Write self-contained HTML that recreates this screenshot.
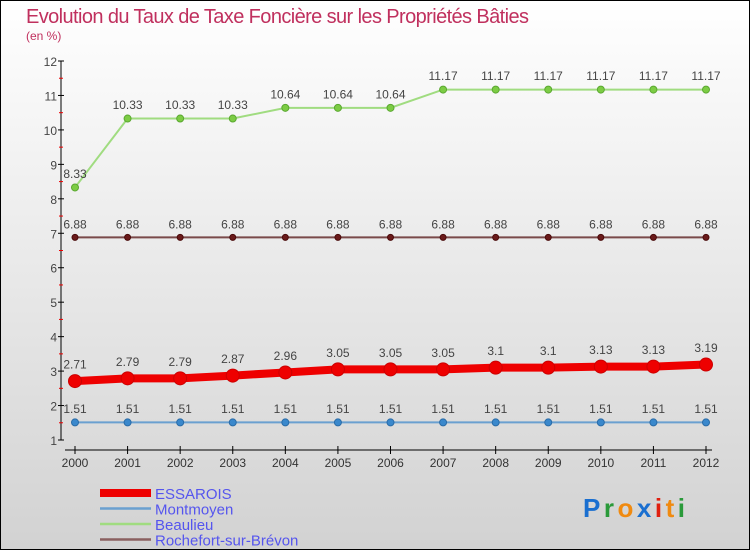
<!DOCTYPE html>
<html><head><meta charset="utf-8"><style>
html,body{margin:0;padding:0}
body{width:750px;height:550px;overflow:hidden;font-family:"Liberation Sans",sans-serif}
svg text{font-family:"Liberation Sans",sans-serif}
</style></head><body>
<svg id="chart" width="750" height="550" xmlns="http://www.w3.org/2000/svg">
<defs><linearGradient id="bg" x1="0" y1="0" x2="0" y2="1"><stop offset="0" stop-color="#ffffff"/><stop offset="1" stop-color="#d2d2d2"/></linearGradient></defs>
<rect x="0.5" y="0.5" width="749" height="549" fill="url(#bg)" stroke="#000"/>
<text x="26" y="23" font-size="20" fill="#c0305e" textLength="503">Evolution du Taux de Taxe Foncière sur les Propriétés Bâties</text>
<text x="26" y="40" font-size="12" fill="#c0305e">(en %)</text>
<g id="axes"></g><g id="series"></g><g id="legend"></g>
<text x="583" y="517" font-size="26" font-weight="bold" textLength="102"><tspan fill="#1a6fd0">P</tspan><tspan fill="#2a9a3a">r</tspan><tspan fill="#f08a10">o</tspan><tspan fill="#1a6fd0">x</tspan><tspan fill="#e02010">i</tspan><tspan fill="#f08a10">t</tspan><tspan fill="#2a9a3a">i</tspan></text>
</svg>
<script>
const years=[2000,2001,2002,2003,2004,2005,2006,2007,2008,2009,2010,2011,2012];
const essarois=[2.71,2.79,2.79,2.87,2.96,3.05,3.05,3.05,3.1,3.1,3.13,3.13,3.19];
const montmoyen=[1.51,1.51,1.51,1.51,1.51,1.51,1.51,1.51,1.51,1.51,1.51,1.51,1.51];
const beaulieu=[8.33,10.33,10.33,10.33,10.64,10.64,10.64,11.17,11.17,11.17,11.17,11.17,11.17];
const rochefort=[6.88,6.88,6.88,6.88,6.88,6.88,6.88,6.88,6.88,6.88,6.88,6.88,6.88];
const yTicks=[1,2,3,4,5,6,7,8,9,10,11,12];
const NS="http://www.w3.org/2000/svg";
const xs=i=>75+i*(706-75)/(years.length-1);
const ys=v=>440-(v-1)*(440-61)/11;
function mk(tag,attrs,parent,txt){const e=document.createElementNS(NS,tag);for(const k in attrs)e.setAttribute(k,attrs[k]);if(txt!==undefined)e.textContent=txt;parent.appendChild(e);return e;}
const ax=document.getElementById('axes');
let e=mk('line',{x1:61,y1:ys(12),x2:61,y2:ys(1),stroke:'#000'},ax);

e=mk('line',{x1:65,y1:450,x2:712,y2:450,stroke:'#000'},ax);

yTicks.forEach(t=>{
 mk('line',{x1:58,y1:ys(t),x2:64,y2:ys(t),stroke:'#000'},ax);
 if(t<12) mk('line',{x1:59,y1:ys(t+0.5),x2:63,y2:ys(t+0.5),stroke:'#e00'},ax);
 e=mk('text',{x:57,y:ys(t)+5,'font-size':12,fill:'#444','text-anchor':'end'},ax,t);
 
});
years.forEach((y,i)=>{
 mk('line',{x1:xs(i),y1:446,x2:xs(i),y2:454,stroke:'#000'},ax);
 e=mk('text',{x:xs(i),y:467,'font-size':12,fill:'#333','text-anchor':'middle'},ax,y);
 
});
const sg=document.getElementById('series');
function series(name,data,color,width,r,dot,dotStroke){
 const g=mk('g',{},sg);
 
 const l=mk('polyline',{points:data.map((v,i)=>xs(i)+','+ys(v)).join(' '),fill:'none',stroke:color,'stroke-width':width},g);
 
 data.forEach((v,i)=>{
  const c=mk('circle',{cx:xs(i),cy:ys(v),r:r,fill:dot,stroke:dotStroke,'stroke-width':1},g);
  
  const t=mk('text',{x:xs(i),y:ys(v)-r-6,'font-size':12,fill:'#444','text-anchor':'middle'},g,String(v));
  
 });
}
series('montmoyen',montmoyen,'#6aa0d0',2,3.5,'#3a88cc','#2a6ca8');
series('beaulieu',beaulieu,'#a0dc80',2,3.5,'#7ccc44','#5aa830');
series('rochefort',rochefort,'#7a4a4a',2,3,'#6a1a1a','#4a0a0a');
series('essarois',essarois,'#ee0000',8,6.5,'#ee0000','#cc0000');
const lg=document.getElementById('legend');
[['ESSAROIS','#ee0000',8],['Montmoyen','#6aa0d0',2.5],['Beaulieu','#a0dc80',2.5],['Rochefort-sur-Brévon','#8a6060',2.5]].forEach((d,i)=>{
 const g=mk('g',{},lg);
 
 const yy=493+i*15.5;
 mk('line',{x1:100,y1:yy,x2:151,y2:yy,stroke:d[1],'stroke-width':d[2]},g);
 mk('text',{x:155,y:yy+6,'font-size':15,fill:'#5555ee'},g,d[0]);
});
</script>
</body></html>
